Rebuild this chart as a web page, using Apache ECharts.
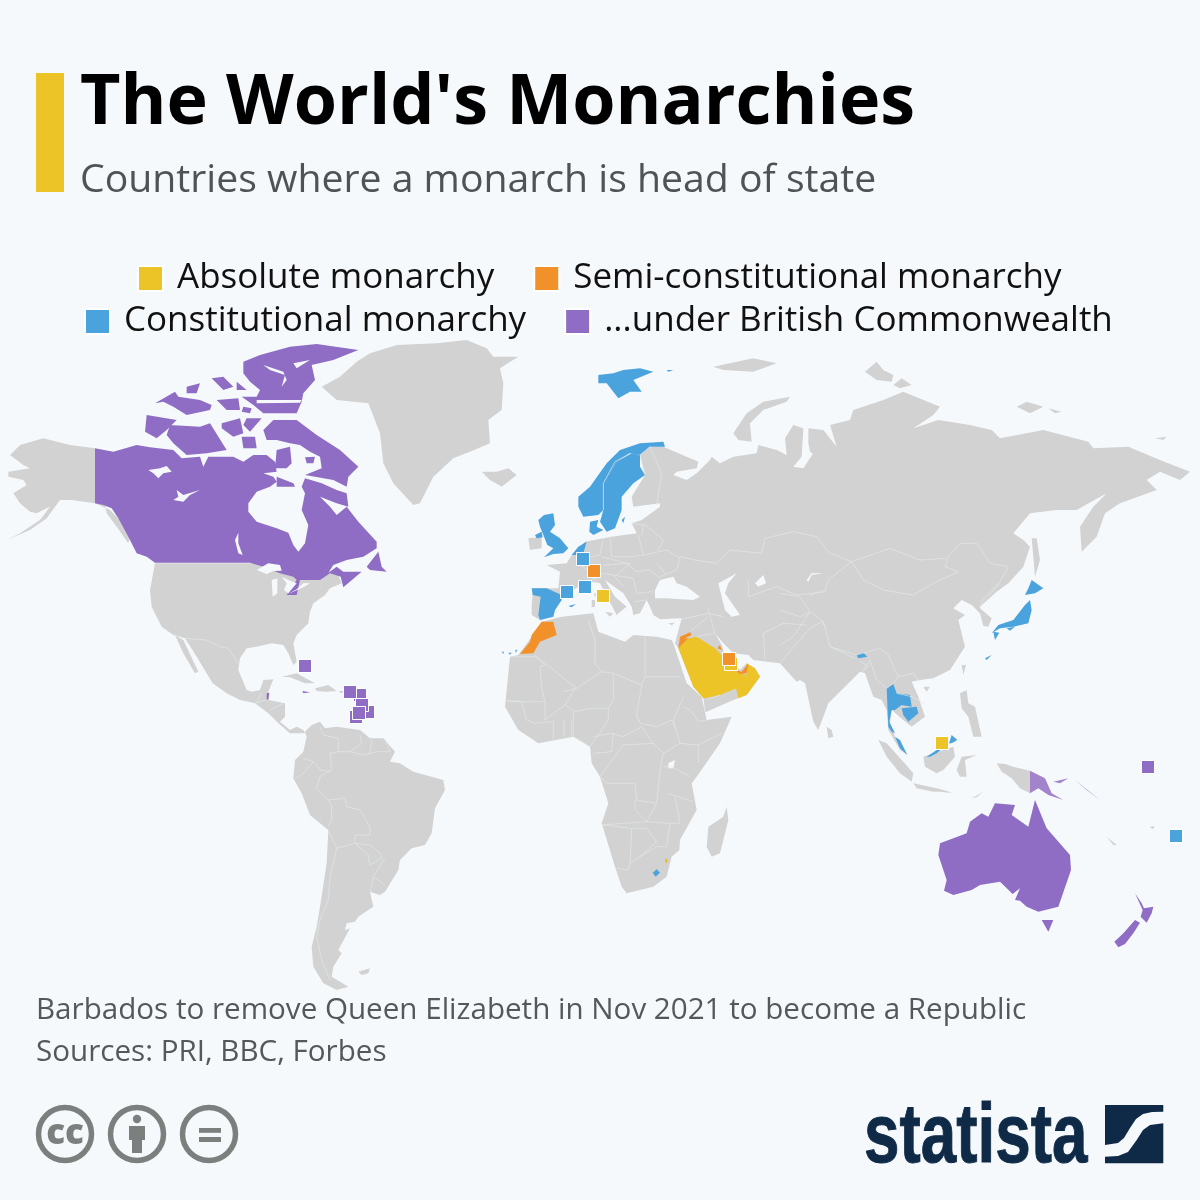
<!DOCTYPE html>
<html><head><meta charset="utf-8">
<style>html,body{margin:0;padding:0;background:#f6f9fc}#c{width:1200px;height:1200px}</style>
<script src="https://cdn.jsdelivr.net/npm/echarts@6/dist/echarts.min.js"></script>
</head><body><div id="c"></div>
<script>
// --- reading frames: a letter switches to a local frame of the picture
const frames={A:[0,340],B:[140,560],C:[270,720],D:[320,340],E:[490,500],F:[490,620],G:[640,600],H:[680,350],I:[780,540],J:[920,740]};

const titleText="The World's Monarchies";
const subtitleText="Countries where a monarch is head of state";
const notes=["Barbados to remove Queen Elizabeth in Nov 2021 to become a Republic","Sources: PRI, BBC, Forbes"];
const categories=["Absolute monarchy","Semi-constitutional monarchy","Constitutional monarchy","...under British Commonwealth"];

// --- grey land
const alaska=["A 285,325 210,315 130,295 60,315 30,345 70,375 90,385 25,395 25,410 70,420 80,435 40,460 60,490 90,515 110,520 150,500 120,540 60,580 20,600 90,570 140,535 180,480 215,480 285,490 330,510 360,540 390,590 385,610 350,560 320,520"];
const greenland=["D 5,140 60,110 110,65 150,40 230,15 350,10 440,0 500,25 520,50 595,50 540,85 550,130 545,210 505,240 510,310 450,335 400,355 340,410 300,490 280,495 220,430 190,370 180,280 145,190 50,180"];
const iceland=["D 485,395 530,395 565,385 590,405 545,440 510,420"];
const northAmerica=["B 45,10 480,10 570,35 590,35 605,70 570,85 555,105 520,130 510,155 505,190 470,225 460,250 470,305 460,315 445,280 430,255 395,250 350,260 320,265 300,295 295,330 320,390 335,395 360,390 370,360 400,358 385,395 385,420 435,430 435,470 420,485 450,510 470,500 490,510 495,520 465,520 450,520 415,490 385,460 345,430 300,420 260,400 218,370 170,290 135,235 100,225 65,200 35,140 30,90",
 "B 105,225 130,240 175,335 165,340 130,280",
 "B 425,350 470,340 525,370 495,370 450,352","B 525,385 565,375 590,393 560,395 530,393","B 598,393 612,393 612,398 598,398"];
const southAmerica=["C 105,35 125,15 150,5 165,25 200,20 270,30 300,55 340,55 375,95 360,125 390,130 430,155 520,180 525,210 495,265 485,340 465,375 425,385 390,420 385,450 345,515 330,525 300,515 310,560 265,590 255,605 230,610 225,630 240,625 205,690 215,700 190,740 185,770 235,800 200,810 160,790 130,740 125,680 140,620 150,560 170,430 175,330 120,285 95,220 70,175 75,120 100,95 110,50",
 "C 265,755 300,745 295,760 275,765"];
const africa=["F 155,5 215,-10 310,-20 325,35 405,65 430,45 500,50 545,60 550,70 590,190 635,230 650,300 725,290 690,370 620,470 605,490 620,570 570,660 568,690 545,710 540,730 530,770 490,800 410,820 395,800 375,740 335,610 355,550 330,470 305,430 300,380 250,350 145,370 85,330 45,260 60,110 85,105 125,50",
 "F 710,560 715,600 690,700 665,710 650,680 655,620 700,590"];
const eurasia=["E 125,345 125,310 130,265 170,265 205,265 210,215 170,195 230,190 245,165 285,125 340,115 365,110 440,100 425,70 455,60 510,20 D 1020,490 940,500 935,470 975,405 960,345 990,320 1030,320 1135,365 1130,385 1070,395 1060,405 1100,420 1130,400 1170,360 H 95,320 120,340 160,320 230,310 235,285 290,300 320,315 315,265 340,225 370,235 365,320 340,350 370,355 400,310 425,330 390,305 385,280 385,235 430,240 470,290 450,225 510,210 520,180 610,150 670,125 780,170 760,195 700,235 775,210 870,225 935,240 960,265 1090,240 1225,275 1240,295 1345,290 1440,330 1530,365 1500,390 1440,365 1400,390 1430,420 1320,460 1275,490 1250,560 1205,605 1200,530 1240,470 1280,430 1190,480 1130,480 1050,490 1000,550 1030,570 1050,590 1030,650 985,700 950,725 900,770 I 600,205 635,235 625,260 610,258 600,220 575,195 545,180 520,205 555,225 535,240 555,320 510,390 460,415 420,420 395,425 415,470 435,530 395,560 370,540 335,510 330,550 345,590 382,645 360,630 325,570 320,510 305,480 280,470 255,400 240,395 225,410 145,490 115,570 100,545 75,430 60,420 50,425 0,370 G 380,185 340,180 325,165 280,160 250,130 225,100 245,135 255,165 280,190 300,210 320,190 345,205 360,230 320,285 280,300 200,335 195,335 190,290 160,260 115,145 105,130 125,55 E 570,355 510,358 490,345 480,320 470,300 450,340 430,345 425,320 400,280 345,240 375,290 410,320 385,340 380,345 330,250 305,245 290,245 250,270 215,285 215,300 195,330 190,350 150,360"];
const islands=["D 625,595 665,590 665,625 630,630","H 160,250 200,190 250,155 330,140 320,155 250,180 210,220 215,275 175,270","H 555,65 590,35 610,60 640,75 635,95 590,90","H 640,105 665,85 695,105 660,115","H 1010,170 1040,155 1090,170 1050,190","H 1105,175 1145,185 1125,190","H 100,50 220,25 290,40 220,65 130,60","H 1425,265 1460,260 1450,270","H 1055,565 1070,565 1080,630 1065,680 1060,620",
 "E 345,335 370,340 360,350","E 305,300 315,300 315,320 305,322","E 312,280 318,280 316,295","F 535,10 555,8 545,16",
 "I 140,560 155,570 160,590 145,595","I 430,440 450,440 440,455","I 545,375 558,375 550,405","I 540,460 560,450 565,490 585,500 605,590 580,590 565,530 545,505",
 "I 430,650 520,620 525,650 490,690 470,700 435,680","I 545,650 590,645 555,660 560,710 540,710 530,690","I 295,600 320,610 370,665 400,700 395,725 360,700 320,650","I 400,730 470,745 510,755 460,755 410,745",
 "J 230,70 255,72 285,82 330,92 330,160 300,145 275,115 245,95","J 155,175 190,155 170,172","J 0,135 60,150 100,160 60,155 0,145","J 560,290 590,315 580,315","J 690,260 705,258 697,268"];

// --- coloured countries
const canada=["A 285,325 340,335 410,315 450,322 520,330 545,355 600,350 610,380 625,350 700,350 730,365 760,345 800,345 825,365 830,395 790,400 820,410 830,425 810,440 770,455 745,490 745,515 770,545 830,565 865,578 880,615 895,635 915,610 925,555 905,510 915,460 960,470 990,500 1010,525 1040,500 1075,545 1130,605 1130,625 1090,650 1040,660 1000,675 985,698 1010,680 1030,695 1085,695 1030,742 1022,710 990,700 960,720 900,720 890,765 860,765 890,720 880,710 840,700 790,680 750,668 465,668 440,650 410,640 385,590 355,535 335,505 310,495 285,490",
 "A 915,415 965,430 1010,450 1040,460 1045,500 1010,490 960,470 915,460 905,440","A 440,225 530,240 500,270 470,295 435,275","A 510,255 600,260 630,250 680,330 620,340 560,345 520,310 500,285","A 665,250 720,235 730,280 700,290 665,265","A 740,235 785,235 750,275 730,255","A 725,290 765,290 770,325 730,325",
 "A 790,270 820,240 890,240 950,285 1020,330 1075,380 1045,410 1040,440 1000,420 915,405 965,385 960,350 930,335 900,315 870,310 830,300 800,300","A 830,330 870,320 875,370 860,385 825,385","A 915,352 945,350 940,370 920,370","A 830,410 880,430 885,440 830,440",
 "A 730,65 780,45 870,20 950,12 1075,30 1000,60 935,75 945,120 910,160 905,185 890,220 790,220 760,195 725,170 770,170 780,150 750,125 730,100","A 465,190 525,155 535,170 600,180 635,195 630,210 560,225 520,200 490,185","A 635,115 670,110 700,140 670,150","A 710,125 740,150 710,150","A 650,180 715,175 720,210 680,210","A 560,140 600,130 590,160 560,160","A 730,200 755,205 750,220 725,215","A 1100,680 1135,635 1145,680 1160,695 1110,690"];
const australia=["J 60,310 140,280 150,245 185,220 205,230 225,190 285,195 275,225 325,260 345,180 380,265 450,345 453,390 415,500 355,515 320,500 300,482 285,480 300,445 278,462 240,425 180,435 155,450 100,465 72,452 80,420 55,345","J 365,540 400,540 385,575"];
const newZealand=["J 645,460 665,490 672,505 700,500 695,520 680,548 662,530 668,510","J 645,540 660,548 640,580 615,612 595,622 583,605 610,580"];
const papua=["J 330,92 375,115 395,160 430,180 385,165 355,145 330,160","J 400,125 445,115 420,130","J 465,120 540,180 500,150"];
const belize=["B 380,400 388,398 385,420 380,420"];
const jamaica=["B 487,393 510,397 490,400"];
const saudiArabia=["G 115,145 125,135 145,115 170,110 225,145 250,170 270,205 300,220 320,225 315,250 290,265 240,285 195,295 190,295 160,260"];
const oman=["G 320,190 345,205 360,230 320,285 295,295 288,265 315,250 320,225"];
const eswatini=["F 525,715 535,720 530,730 525,728"];
const morocco=["F 155,5 190,5 200,45 150,65 130,100 90,102 120,65 125,45"];
const jordan=["G 115,145 120,110 150,97 155,105 135,115 145,115 125,135"];
const kuwait=["G 232,145 240,135 245,150"];
const uae=["G 285,210 305,215 325,190 320,220 300,222"];
const uk=["D 655,540 672,525 700,520 705,555 690,575 720,595 745,625 730,640 700,642 672,652 700,625 682,615 668,580 660,560","D 645,585 665,575 668,592 650,595"];
const norway=["D 775,470 810,440 860,370 900,330 960,310 1030,305 1035,320 990,320 960,345 930,340 890,365 850,430 850,510 835,525 790,530 775,500","D 835,105 880,100 910,90 960,85 1000,95 940,120 965,155 930,155 895,175 860,130 835,130","D 1040,90 1060,90 1045,95"];
const sweden=["D 960,345 935,340 890,365 850,430 850,510 840,545 860,575 885,565 905,510 905,470 940,430 975,405 960,380","D 905,540 915,530 910,550"];
const denmark=["D 810,545 835,540 830,560 850,570 820,585 808,575"];
const netherlands=["D 755,645 775,620 800,605 790,640 770,645"];
const spain=["E 125,265 170,265 215,285 215,300 195,330 190,350 150,360 145,345 152,290 128,285","E 235,318 258,312 245,322","F 35,95 42,95 40,102","F 55,98 65,98 60,104","F 75,92 82,88 78,98"];
const lesotho=["F 488,758 500,748 510,758 497,770"];
const bhutan=["I 230,345 250,338 262,350 235,355"];
const thailand=["I 320,445 340,432 350,460 390,465 395,500 365,495 345,510 335,510 328,545 345,580 335,575 325,560"];
const cambodia=["I 365,505 410,500 415,520 385,545 370,525"];
const malaysia=["I 345,590 360,600 382,645 360,625","I 440,650 470,630 485,628 470,640 450,650","I 507,610 515,585 532,600 515,610"];
const japan=["I 755,120 790,145 765,160 735,165 745,145","I 750,180 755,210 745,250 700,260 660,265 635,280 655,255 700,240 735,195","I 640,275 658,278 645,300","I 680,265 705,260 690,272","I 615,355 635,345 620,360"];

const absoluteCountries={"Saudi Arabia":saudiArabia,"Oman":oman,"Eswatini":eswatini};
const semiCountries={"Morocco":morocco,"Jordan":jordan,"Kuwait":kuwait,"UAE":uae};
const constitutionalCountries={"United Kingdom":uk,"Norway":norway,"Sweden":sweden,"Denmark":denmark,"Netherlands":netherlands,"Spain":spain,"Lesotho":lesotho,"Bhutan":bhutan,"Thailand":thailand,"Cambodia":cambodia,"Malaysia":malaysia,"Japan":japan};
const commonwealthCountries={"Canada":canada,"Australia":australia,"New Zealand":newZealand,"Papua New Guinea":papua,"Belize":belize,"Jamaica":jamaica};

// --- lakes, inland seas and arctic channels
const lakes=["A 445,390 480,385 500,378 515,395 490,400 475,415 460,400","A 520,480 535,470 530,450 550,465 600,450 570,465 550,485","A 705,600 715,578 715,610 728,645 715,640",
 "A 790,75 850,95 860,120 845,140 855,105 810,90","A 880,70 930,60 890,85","A 770,180 905,180 900,188 770,190",
 "B 350,30 385,10 420,15 425,32 400,33 380,42","B 395,60 412,55 412,100 398,110","B 425,50 445,60 470,70 445,100 432,90 440,70","B 443,103 470,88 490,70 510,70 490,82",
 "D 1005,750 1020,720 1060,710 1070,730 1100,740 1140,770 1120,780 1040,775 1005,775","H 115,700 170,670 145,700 135,730 170,780 G 300,45 275,50 255,30","H 225,700 250,675 258,700 235,710","H 380,690 395,670 430,670 395,675 385,695","F 535,430 555,420 550,445 535,445"];

// --- tiny states drawn as squares
const absoluteMarkers=[["Vatican",603,596],["Qatar",731,664],["Brunei",942,743]];
const semiMarkers=[["Liechtenstein",594,571],["Bahrain",729,659]];
const constitutionalMarkers=[["Belgium",583,559],["Monaco",585,587],["Andorra",567,592],["Tonga",1176,836]];
const commonwealthMarkers=[["Bahamas",305,666],["St Kitts",360,695],["Antigua",350,692],["Dominica",368,712],["St Lucia",362,705],["Grenada",356,717],["St Vincent",359,713],["Tuvalu",1148,767]];

// --- national borders, grey land
const borders=[
"B 100,225 135,235 200,240 240,260 265,265 295,310","B 345,430 375,420 385,420","B 390,450 430,430","B 365,400 350,425",
"C 150,20 160,45 205,55 205,95 180,100 185,150","C 270,45 275,70 240,95 205,95","C 305,60 300,100","C 345,55 360,95","C 240,95 280,105 320,95 360,95","C 185,150 150,170 140,205 175,240 225,235","C 100,115 130,125 150,150 180,155","C 130,125 95,165 75,175","C 175,240 185,255 185,300 175,320","C 225,235 230,260 270,270 300,320 300,345 255,345","C 255,345 255,370 200,385 175,330","C 255,370 300,375 330,400 335,415 300,435 295,405 255,370","C 200,385 180,470 175,540 150,600 140,650 155,720 180,780","C 300,520 310,470 345,415","C 310,470 345,495",
"F 60,110 135,110 165,135 150,140 155,205 165,245 50,245","F 295,0 315,60 315,130 335,155 260,205 220,215","F 135,105 260,205","F 465,50 465,170 570,170","F 335,155 370,160 455,195 465,170","F 455,195 440,285 450,310","F 370,160 370,240 355,265","F 355,265 300,265 255,275 225,255 255,205","F 165,245 165,300 230,250","F 50,240 95,245 110,300 135,310 185,305","F 190,300 190,365","F 222,300 222,350","F 245,300 245,350","F 250,275 250,350 300,380 355,300 355,265","F 310,350 365,340 400,350 455,320 490,370","F 450,310 500,320 545,300 560,330","F 580,230 550,300 570,370 625,375 695,340","F 650,300 625,305 600,270 580,260","F 520,400 570,370","F 625,375 625,430","F 600,470 545,440 520,440","F 400,375 490,370 520,400 510,450 505,500 500,550 440,540 435,490 350,490","F 330,470 350,490","F 330,470 400,375","F 310,400 365,395 370,340","F 435,540 435,570 470,605 335,615","F 470,605 500,550","F 535,520 610,545","F 555,530 570,610 540,610 530,680","F 335,615 425,625 420,730 415,750 380,745","F 425,625 470,625 500,665 450,710 420,730","F 450,710 500,680 530,680","F 470,605 540,610",
"E 262,190 300,215 320,245","E 280,175 330,165 340,115","E 360,108 365,170","E 335,170 410,190","E 445,105 460,165 430,170 365,170","E 425,70 460,75 455,105","E 460,70 520,120 505,150","E 460,165 530,150 570,175 560,210 510,230","E 500,190 530,225","E 410,190 440,215 480,210 510,235","E 400,260 370,225 430,235 440,280 490,275","E 430,305 470,300","E 305,240 340,220 370,225","E 340,195 420,190 380,225",
"D 990,320 1025,400 1010,495","D 930,340 885,365 850,430 850,510","D 960,345 990,320","D 960,345 975,405",
"H 0,620 45,630 110,640 150,600 245,610 255,565 340,545 410,560 450,610 515,635","H 515,635 630,595 720,630 800,625 840,580 890,580 930,640 985,650 960,695 900,755","H 515,635 550,690 610,720 700,735 760,700 835,665 795,650 805,625","H 515,635 445,690 435,720 390,735","H 205,690 205,740 290,710 350,735 440,725",
"G 225,100 210,50 205,25","G 375,175 370,100 430,70 500,75","G 420,190 470,130 510,85 545,65 560,85","G 115,60 205,40 250,50","G 150,95 205,50","G 225,100 170,110","G 197,300 240,285",
"I 90,215 130,245 150,320 230,345 265,335 300,325 325,345","I 150,320 225,355","I 325,345 355,410 340,430 320,445 290,420 270,360 250,390","I 355,410 400,400 420,425","I 350,460 395,470 435,490","I 235,360 265,380 245,395","I 600,195 660,130",
"I 0,315 40,290 90,215","I 0,210 60,230 90,215 60,170 0,160"];

// --- logo outline
const logoUpper=[[1105,1105],[1163.3,1105],[1163.3,1111.7],[1152,1112],[1143,1114],[1136,1119],[1130,1128],[1124,1138],[1118,1143],[1105,1145]];
const logoLower=[[1163.3,1123.3],[1163.3,1163.3],[1105,1163.3],[1105,1156.7],[1118,1156],[1128,1152],[1136.7,1140],[1143,1130],[1150,1125]];

// --- helpers turning the readings above into a map
function read(s){let f=[0,0],out=[];s.trim().split(/\s+/).forEach(t=>{if(/^[A-Z]$/.test(t)){f=frames[t];}else{const p=t.split(',').map(Number);out.push([f[0]+p[0]/3,f[1]+p[1]/3]);}});return out;}
function ring(s){const r=read(s);r.push(r[0].slice());return r;}
const features=[];
function add(name,list){features.push({type:'Feature',properties:{name},geometry:{type:'MultiPolygon',coordinates:list.map(s=>[ring(s)])}});}
add('Alaska',alaska);add('Greenland',greenland);add('Iceland',iceland);add('North America',northAmerica);add('South America',southAmerica);add('Africa',africa);add('Eurasia',eurasia);add('Islands',islands);
const groups=[[absoluteCountries,'#ecc428'],[semiCountries,'#f29129'],[constitutionalCountries,'#4aa3dc'],[commonwealthCountries,'#8f6dc4']];
const regions=[];
groups.forEach(([g,color])=>Object.keys(g).forEach(n=>{add(n,g[n]);regions.push({name:n,silent:true,itemStyle:{areaColor:n==='Papua New Guinea'?'#a384cc':color}});}));
add('Lakes',lakes);regions.push({name:'Lakes',silent:true,itemStyle:{areaColor:'#f6f9fc'}});
echarts.registerMap('monarchies',{type:'FeatureCollection',features});

const identity=p=>p;
const chart=echarts.init(document.getElementById('c'),null,{renderer:'canvas',width:1200,height:1200});
const legendText={fontFamily:'"Open Sans"',fontSize:35,color:'#111111',padding:[0,0,0,9]};
const colors=['#ecc428','#f29129','#4aa3dc','#8f6dc4'];
const markerSets=[absoluteMarkers,semiMarkers,constitutionalMarkers,commonwealthMarkers];
const S=(txt,x,y,size,weight,color)=>({type:'text',x,y,silent:true,style:{text:txt,x:0,y:0,fontFamily:'"Open Sans"',fontSize:size,fontWeight:weight,fill:color}});
const ringG=(cx,cy)=>({type:'circle',silent:true,shape:{cx,cy,r:26.5},style:{fill:'transparent',stroke:'#7b7f7e',lineWidth:5.5}});
const rectG=(x,y,w,h,c)=>({type:'rect',silent:true,shape:{x,y,width:w,height:h},style:{fill:c}});
const navy='#0f2a47';
chart.setOption({
 animation:false,
 backgroundColor:'#f6f9fc',
 tooltip:{show:false},
 legend:[
  {data:[categories[0],categories[1]],left:137,top:261,itemWidth:25,itemHeight:25,itemGap:39,icon:'rect',textStyle:legendText,selectedMode:false,padding:0},
  {data:[categories[2],categories[3]],left:84,top:304,itemWidth:25,itemHeight:25,itemGap:38,icon:'rect',textStyle:legendText,selectedMode:false,padding:0}
 ],
 geo:{map:'monarchies',projection:{project:identity,unproject:identity},boundingCoords:[[0,0],[1200,1200]],left:0,top:0,width:1200,height:1200,roam:false,silent:true,
  label:{show:false},itemStyle:{areaColor:'#d2d2d2',borderWidth:0,borderColor:'transparent'},emphasis:{disabled:true},regions},
 series:[
  {type:'lines',coordinateSystem:'geo',polyline:true,silent:true,z:3,lineStyle:{color:'#e4e8eb',width:0.7,opacity:0.9},data:borders.map(b=>({coords:read(b)}))},
  ...categories.map((name,i)=>({name,type:'scatter',coordinateSystem:'geo',symbol:'rect',symbolSize:13,z:5,silent:true,itemStyle:{color:colors[i],borderColor:'#ffffff',borderWidth:1,opacity:1},data:markerSets[i].map(m=>({name:m[0],value:[m[1],m[2]]}))}))
 ],
 graphic:[
  rectG(36,73,28,119,'#ecc428'),
  S(titleText,80,69,70,700,'#000000'),
  S(subtitleText,80,161,39.2,400,'#4f5355'),
  S(notes[0],36,996,29.6,400,'#55585a'),
  S(notes[1],36,1038,29.6,400,'#55585a'),
  ringG(65,1134),ringG(137,1134),ringG(209,1134),
  {type:'text',silent:true,x:65,y:1134,style:{text:'cc',x:0,y:0,align:'center',verticalAlign:'middle',fontFamily:'"Open Sans"',fontSize:35,fontWeight:800,fill:'#7b7f7e'}},
  {type:'circle',silent:true,shape:{cx:137,cy:1119,r:4.2},style:{fill:'#7b7f7e'}},
  rectG(129,1126,16,14,'#7b7f7e'),rectG(132,1140,10,13,'#7b7f7e'),
  rectG(199,1128,22,4.8,'#7b7f7e'),rectG(199,1137,22,5,'#7b7f7e'),
  {type:'text',silent:true,x:864,y:1097,scaleX:0.76,style:{text:'statista',x:0,y:0,fontFamily:'"Liberation Sans"',fontSize:84,fontWeight:700,fill:navy,stroke:navy,lineWidth:1}},
  {type:'polygon',silent:true,shape:{points:logoUpper},style:{fill:navy}},
  {type:'polygon',silent:true,shape:{points:logoLower},style:{fill:navy}}
 ]
});
</script></body></html>
